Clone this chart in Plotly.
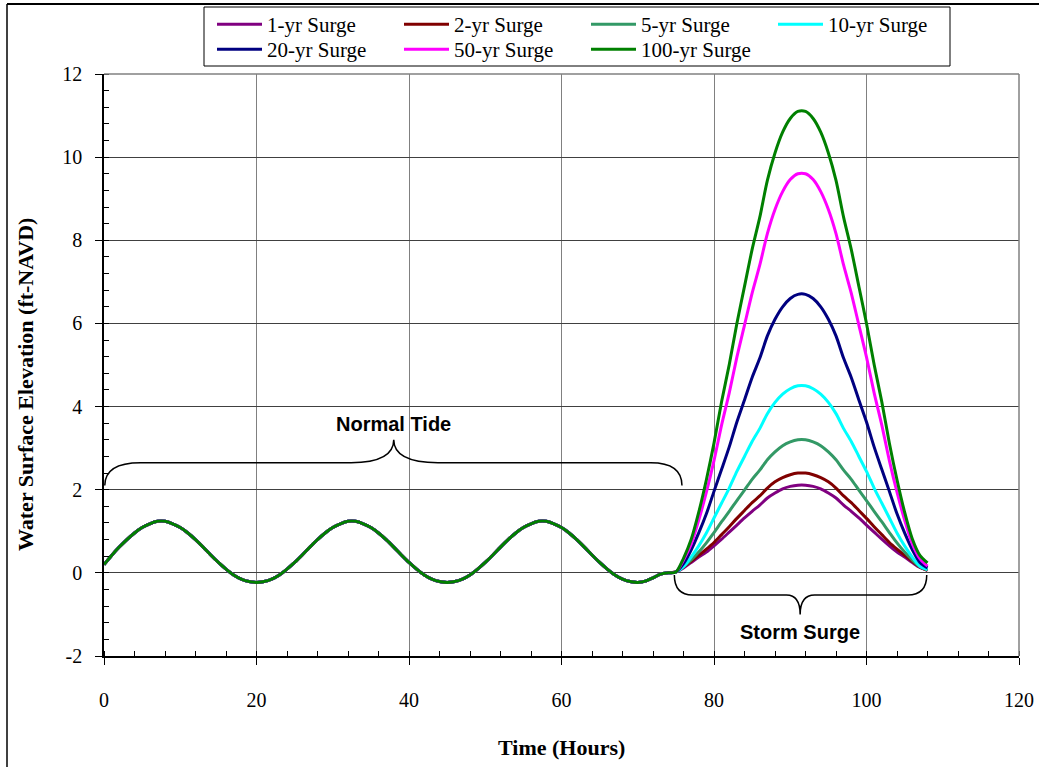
import plotly.graph_objects as go

# Hourly water levels (ft-NAVD)
tide_hours = list(range(0, 75))
tide_level = [
    0.20, 0.42, 0.62, 0.80, 0.96, 1.09, 1.18, 1.24, 1.24, 1.18,
    1.09, 0.96, 0.80, 0.62, 0.43, 0.25, 0.09, -0.05, -0.15, -0.21,
    -0.23, -0.21, -0.15, -0.05, 0.09, 0.25, 0.43, 0.62, 0.80, 0.96,
    1.09, 1.18, 1.24, 1.24, 1.18, 1.09, 0.96, 0.80, 0.62, 0.43,
    0.25, 0.09, -0.05, -0.15, -0.21, -0.23, -0.21, -0.15, -0.05, 0.09,
    0.25, 0.43, 0.62, 0.80, 0.96, 1.09, 1.18, 1.24, 1.24, 1.18,
    1.09, 0.96, 0.80, 0.62, 0.43, 0.25, 0.09, -0.05, -0.15, -0.21,
    -0.23, -0.20, -0.12, -0.03, 0.00,
]

surge_hours = list(range(75, 109))
surge_1yr = [
    0.02, 0.12, 0.25, 0.38, 0.50, 0.65, 0.81, 0.98, 1.15, 1.32, 1.48, 1.63,
    1.80, 1.92, 2.02, 2.08, 2.11, 2.11, 2.08, 2.02, 1.92, 1.80, 1.63, 1.48,
    1.32, 1.15, 0.98, 0.81, 0.65, 0.50, 0.38, 0.25, 0.13, 0.06,
]
surge_2yr = [
    0.02, 0.14, 0.28, 0.42, 0.57, 0.73, 0.92, 1.11, 1.31, 1.50, 1.69, 1.85,
    2.04, 2.19, 2.29, 2.36, 2.40, 2.40, 2.36, 2.29, 2.19, 2.04, 1.85, 1.69,
    1.50, 1.31, 1.11, 0.92, 0.73, 0.57, 0.42, 0.28, 0.14, 0.06,
]
surge_5yr = [
    0.02, 0.15, 0.31, 0.50, 0.72, 0.97, 1.23, 1.48, 1.74, 1.99, 2.25, 2.47,
    2.72, 2.91, 3.06, 3.15, 3.20, 3.20, 3.15, 3.06, 2.91, 2.72, 2.47, 2.25,
    1.99, 1.74, 1.48, 1.23, 0.97, 0.72, 0.50, 0.31, 0.15, 0.07,
]
surge_10yr = [
    0.02, 0.15, 0.38, 0.65, 0.96, 1.32, 1.68, 2.04, 2.44, 2.80, 3.16, 3.47,
    3.83, 4.10, 4.30, 4.43, 4.50, 4.50, 4.43, 4.30, 4.10, 3.83, 3.47, 3.16,
    2.80, 2.44, 2.04, 1.68, 1.32, 0.96, 0.65, 0.38, 0.16, 0.08,
]
surge_20yr = [
    0.02, 0.22, 0.55, 0.96, 1.42, 1.96, 2.49, 3.03, 3.63, 4.16, 4.70, 5.16,
    5.70, 6.10, 6.40, 6.60, 6.70, 6.70, 6.60, 6.40, 6.10, 5.70, 5.16, 4.70,
    4.16, 3.63, 3.03, 2.49, 1.96, 1.42, 0.96, 0.56, 0.25, 0.12,
]
surge_50yr = [
    0.02, 0.31, 0.69, 1.27, 1.94, 2.70, 3.56, 4.33, 5.19, 5.96, 6.73, 7.40,
    8.16, 8.74, 9.17, 9.46, 9.60, 9.60, 9.46, 9.17, 8.74, 8.16, 7.40, 6.73,
    5.96, 5.19, 4.33, 3.56, 2.70, 1.94, 1.27, 0.70, 0.34, 0.16,
]
surge_100yr = [
    0.02, 0.35, 0.80, 1.46, 2.24, 3.12, 4.12, 5.01, 6.00, 6.89, 7.78, 8.55,
    9.44, 10.10, 10.60, 10.93, 11.10, 11.10, 10.93, 10.60, 10.10, 9.44, 8.55, 7.78,
    6.89, 6.00, 5.01, 4.12, 3.12, 2.24, 1.46, 0.82, 0.42, 0.24,
]

series_names = ["1-yr Surge", "2-yr Surge", "5-yr Surge", "10-yr Surge",
                "20-yr Surge", "50-yr Surge", "100-yr Surge"]
series_values = [surge_1yr, surge_2yr, surge_5yr, surge_10yr,
                 surge_20yr, surge_50yr, surge_100yr]
series_colors = ["#800080", "#800000", "#339966", "#00FFFF",
                 "#000080", "#FF00FF", "#008000"]

x_ticks = [0, 20, 40, 60, 80, 100, 120]
y_ticks = [-2, 0, 2, 4, 6, 8, 10, 12]

SERIF = "Liberation Serif"
SANS = "Liberation Sans"

W, H = 1039, 767
L, R, T, B = 104, 20, 74, 111
pw, ph = W - L - R, H - T - B


def px_x(px):
    return (px - L) / pw


def px_y(py):
    return (H - B - py) / ph


fig = go.Figure()
for i, (name, surge, color) in enumerate(zip(series_names, series_values, series_colors)):
    fig.add_trace(go.Scatter(
        x=tide_hours + surge_hours,
        y=tide_level + surge,
        mode="lines",
        name=name,
        legend="legend" if i < 4 else "legend2",
        line=dict(color=color, width=3, shape="spline", smoothing=0.8),
    ))

shapes = []
# outer frame (left and top edges)
shapes.append(dict(type="line", xref="paper", yref="paper",
                   x0=px_x(7), x1=px_x(7), y0=px_y(4), y1=px_y(780),
                   line=dict(color="black", width=1.5)))
shapes.append(dict(type="line", xref="paper", yref="paper",
                   x0=px_x(7), x1=px_x(1045), y0=px_y(4), y1=px_y(4),
                   line=dict(color="black", width=2)))
# top / right border of plotting area
shapes.append(dict(type="line", xref="paper", yref="paper",
                   x0=0, x1=1, y0=1, y1=1, line=dict(color="#808080", width=1.5)))
shapes.append(dict(type="line", xref="paper", yref="paper",
                   x0=1, x1=1, y0=0, y1=1, line=dict(color="#808080", width=1.5)))
# legend frame
shapes.append(dict(type="rect", xref="paper", yref="paper",
                   x0=px_x(204), x1=px_x(950), y0=px_y(66), y1=px_y(7),
                   line=dict(color="black", width=1), fillcolor="rgba(0,0,0,0)"))

# curly braces marking the tide and surge periods
tide_brace = ("M 0.1,2.1 Q 0.1,2.65 4.8,2.65 L 32.4,2.65 Q 38,2.65 38,3.2 "
              "Q 38,2.65 43.8,2.65 L 71.7,2.65 Q 75.8,2.65 75.8,2.1")
surge_brace = ("M 74.8,-0.05 Q 74.8,-0.53 77.2,-0.53 L 89.5,-0.53 Q 91.3,-0.53 91.3,-1.0 "
               "Q 91.3,-0.53 93.2,-0.53 L 105.4,-0.53 Q 107.9,-0.53 107.9,-0.05")
for p in (tide_brace, surge_brace):
    shapes.append(dict(type="path", xref="x", yref="y", path=p,
                       line=dict(color="black", width=1.5)))

annotations = [
    dict(x=38, y=3.57, xref="x", yref="y", text="<b>Normal Tide</b>", showarrow=False,
         xanchor="center", yanchor="middle",
         font=dict(family=SANS, size=20, color="black")),
    dict(x=91.3, y=-1.42, xref="x", yref="y", text="<b>Storm Surge</b>", showarrow=False,
         xanchor="center", yanchor="middle",
         font=dict(family=SANS, size=20, color="black")),
    dict(x=px_x(561), y=px_y(748), xref="paper", yref="paper",
         xanchor="center", yanchor="middle",
         text="<b>Time (Hours)</b>", showarrow=False,
         font=dict(family=SERIF, size=22, color="black")),
    dict(x=px_x(25), y=px_y(385), xref="paper", yref="paper", textangle=-90,
         xanchor="center", yanchor="middle",
         text="<b>Water Surface Elevation (ft-NAVD)</b>", showarrow=False,
         font=dict(family=SERIF, size=22, color="black")),
]

legend_style = dict(
    orientation="h", xanchor="left", yanchor="top",
    borderwidth=0, bgcolor="rgba(0,0,0,0)",
    font=dict(family=SERIF, size=21, color="black"),
    entrywidth=127, entrywidthmode="pixels", itemwidth=45,
    traceorder="normal",
)

fig.update_layout(
    width=W, height=H,
    margin=dict(l=L, r=R, t=T, b=B, autoexpand=False),
    paper_bgcolor="white", plot_bgcolor="white",
    font=dict(family=SERIF, size=20, color="black"),
    shapes=shapes,
    annotations=annotations,
    legend=dict(x=px_x(212), y=px_y(4), **legend_style),
    legend2=dict(x=px_x(212), y=px_y(29), **legend_style),
    showlegend=True,
)

fig.update_xaxes(
    range=[0, 120], tickvals=x_ticks, ticktext=[str(v) for v in x_ticks],
    showgrid=True, gridcolor="#808080", gridwidth=1,
    zeroline=False, showline=True, linecolor="black", linewidth=1.5,
    ticks="outside", ticklen=7, tickcolor="black", ticklabelstandoff=18,
    minor=dict(dtick=4, tick0=0, ticks="inside", ticklen=5, tickcolor="black", showgrid=False),
    tickfont=dict(family=SERIF, size=20),
)
fig.update_yaxes(
    range=[-2, 12], tickvals=y_ticks, ticktext=[str(v) for v in y_ticks],
    showgrid=True, gridcolor="#404040", gridwidth=1,
    zeroline=False, showline=True, linecolor="black", linewidth=1.5,
    ticks="outside", ticklen=7, tickcolor="black", ticklabelstandoff=9,
    minor=dict(dtick=0.4, tick0=0, ticks="inside", ticklen=5, tickcolor="black", showgrid=False),
    tickfont=dict(family=SERIF, size=20),
)

fig.write_html("out.html")
